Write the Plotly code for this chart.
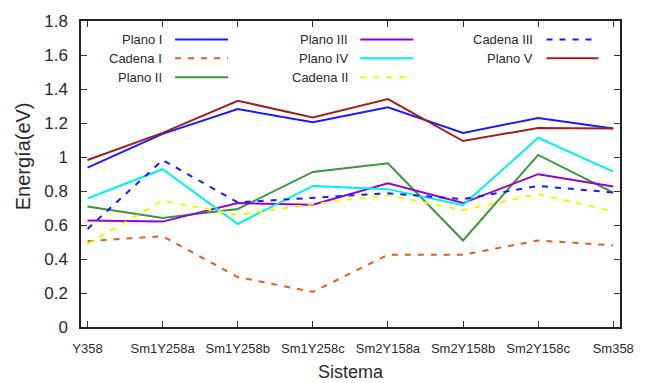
import plotly.graph_objects as go

sistemas = ["Y358", "Sm1Y258a", "Sm1Y258b", "Sm1Y258c", "Sm2Y158a", "Sm2Y158b", "Sm2Y158c", "Sm358"]

plano_1 = [0.937, 1.136, 1.282, 1.205, 1.292, 1.142, 1.230, 1.168]
cadena_1 = [0.505, 0.534, 0.294, 0.206, 0.425, 0.425, 0.509, 0.480]
plano_2 = [0.709, 0.641, 0.694, 0.912, 0.963, 0.509, 1.012, 0.791]
plano_3 = [0.626, 0.620, 0.729, 0.719, 0.846, 0.729, 0.899, 0.826]
plano_4 = [0.756, 0.928, 0.606, 0.830, 0.811, 0.717, 1.113, 0.914]
cadena_2 = [0.489, 0.743, 0.659, 0.723, 0.776, 0.688, 0.782, 0.680]
cadena_3 = [0.577, 0.982, 0.733, 0.762, 0.787, 0.752, 0.830, 0.791]
plano_5 = [0.982, 1.142, 1.331, 1.232, 1.341, 1.094, 1.171, 1.168]

y_ticks = [0, 0.2, 0.4, 0.6, 0.8, 1, 1.2, 1.4, 1.6, 1.8]

series = [
    ("Plano I", plano_1, "#1a1aff", "solid"),
    ("Cadena I", cadena_1, "#dd5f25", "dash"),
    ("Plano II", plano_2, "#3c963c", "solid"),
    ("Plano III", plano_3, "#9400d3", "solid"),
    ("Plano IV", plano_4, "#00f0f0", "solid"),
    ("Cadena II", cadena_2, "#f5f500", "dash"),
    ("Cadena III", cadena_3, "#1a1aff", "dash"),
    ("Plano V", plano_5, "#a31f1f", "solid"),
]

DASH = "6px,7px"
FONT = "Liberation Sans, Arial, sans-serif"
TXT = "#2a2a2a"

fig = go.Figure()
xs = list(range(len(sistemas)))
for name, vals, color, style in series:
    fig.add_trace(go.Scatter(
        x=xs, y=vals, mode="lines", name=name,
        line=dict(color=color, width=2, dash=(DASH if style == "dash" else "solid")),
        showlegend=False,
    ))

# plot area in pixels
L, R, T, B = 81, 631, 19, 327
W, H = R - L, B - T

def px(x):
    return (x - L) / W

def py(y):
    return (B - y) / H

annotations = []
shapes = []
legend_cols = [(166, 177, 231), (355, 366, 420), (544, 556, 609)]
row_y = [37.5, 56.5, 75.5]
for i, (name, vals, color, style) in enumerate(series):
    col, row = divmod(i, 3)
    tx, l0, l1 = legend_cols[col]
    yy = row_y[row]
    annotations.append(dict(
        x=px(tx), y=py(yy), xref="paper", yref="paper", text=name,
        showarrow=False, xanchor="right", yanchor="middle",
        font=dict(family=FONT, size=13, color=TXT),
    ))
    shapes.append(dict(
        type="line", xref="paper", yref="paper",
        x0=px(l0), x1=px(l1), y0=py(yy), y1=py(yy),
        line=dict(color=color, width=2, dash=(DASH if style == "dash" else "solid")),
    ))

annotations.append(dict(
    x=0.5, y=py(372), xref="paper", yref="paper", text="Sistema",
    showarrow=False, xanchor="center", yanchor="middle",
    font=dict(family=FONT, size=18, color=TXT),
))
annotations.append(dict(
    x=px(22), y=py(155), xref="paper", yref="paper", text="Energía(eV)",
    showarrow=False, xanchor="center", yanchor="middle", textangle=-90,
    font=dict(family=FONT, size=20, color=TXT),
))

fig.update_layout(
    width=646, height=383,
    margin=dict(l=L, r=646 - R, t=T, b=383 - B),
    paper_bgcolor="white", plot_bgcolor="white",
    annotations=annotations, shapes=shapes,
    showlegend=False,
)
fig.update_xaxes(
    tickmode="array", tickvals=xs, ticktext=sistemas,
    range=[-0.087, 7.09],
    showgrid=False, zeroline=False,
    showline=True, linecolor="#222222", linewidth=1.5, mirror="ticks",
    ticks="inside", ticklen=6, tickcolor="#333333", tickwidth=1,
    tickfont=dict(family=FONT, size=13, color=TXT),
    ticklabelstandoff=9,
)
fig.update_yaxes(
    tickmode="array", tickvals=y_ticks, ticktext=[f"{v:g}" for v in y_ticks],
    range=[0, 1.8],
    showgrid=False, zeroline=False,
    showline=True, linecolor="#222222", linewidth=1.5, mirror="ticks",
    ticks="inside", ticklen=6, tickcolor="#333333", tickwidth=1,
    tickfont=dict(family=FONT, size=17, color=TXT),
    ticklabelstandoff=8,
)

fig.write_html("out.html")
